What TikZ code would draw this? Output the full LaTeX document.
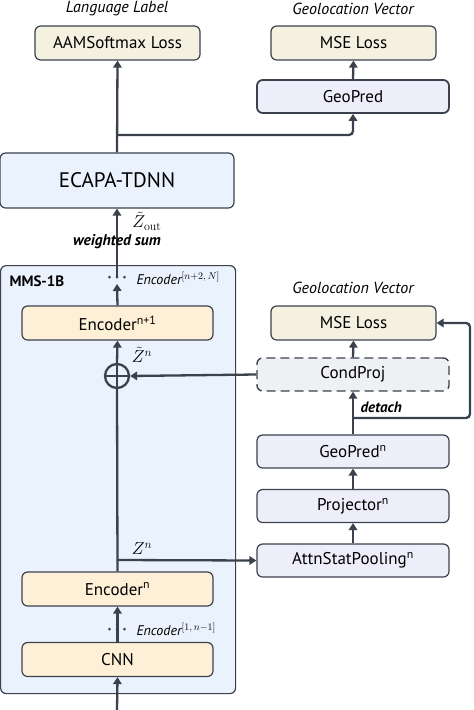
\documentclass[tikz,border=0pt]{standalone}
\usepackage[no-math]{fontspec}
\setmainfont{PT Sans}
\usepackage{amsmath}
\usetikzlibrary{positioning,arrows.meta}

\definecolor{edge}{HTML}{3B414D}
\definecolor{lossfill}{HTML}{F4F1E1}
\definecolor{geofill}{HTML}{EEEEFB}
\definecolor{blockfill}{HTML}{EAF2FE}
\definecolor{encfill}{HTML}{FDF0D7}
\definecolor{projfill}{HTML}{EEF0F4}

\begin{document}
\begin{tikzpicture} [x=1pt,y=-1pt,
	box/.style={
		rectangle,draw=edge,fill=white,line width=1.2pt,
		rounded corners=2mm,inner sep=0pt,
		font=\fontsize{17}{20}\selectfont},
	loss/.style={
		box,fill=lossfill,minimum width=165pt,minimum height=34pt},
	geo/.style={
		box,fill=geofill,minimum width=192pt,minimum height=33pt},
	enc/.style={
		box,fill=encfill,minimum width=191pt,minimum height=34pt},
	title/.style={font=\itshape\fontsize{16}{18}\selectfont},
	note/.style={font=\fontsize{14}{16}\selectfont},
	mathlabel/.style={inner sep=0pt,font=\fontsize{17}{20}\selectfont},
	dot/.style={circle,fill=edge,inner sep=0pt,minimum size=3pt},
	tip/.style={
		-{Triangle[length=7pt,width=8.5pt]},draw=edge,line width=2.3pt}]
\useasboundingbox (0,0) rectangle (474,710);
% top: heads
\node[title] (lang title) 		at (117,9) {Language Label};
\node[title] (geo title) 		at (353,9) {Geolocation Vector};
\node[loss] (aam) 				at (117.5,43) {AAMSoftmax Loss};
\node[loss] (mse) 				at (353.5,43) {MSE Loss};
\node[geo,line width=1.8pt] (geopred) 	at (353,96.5) {GeoPred};
\node[box,fill=blockfill,minimum width=234pt,minimum height=55pt,
	font=\fontsize{21}{24}\selectfont] (ecapa) 	at (117,180.5) {ECAPA-TDNN};
% MMS-1B
\node[box,fill=blockfill,minimum width=235pt,minimum height=428pt,
	anchor=north west] (mms) 		at (0,265) {};
\node[font=\bfseries\fontsize{15}{17}\selectfont,anchor=west] (mms label) at (6,281) {MMS-1B};
\node[enc] (enc1) 				at (117.5,323) {Encoder\textsuperscript{n+1}};
\node[enc] (encn) 				at (117.5,589) {Encoder\textsuperscript{n}};
\node[enc] (cnn) 				at (117.5,659.5) {CNN};
\node[circle,draw=edge,line width=2.3pt,minimum size=24pt,inner sep=0pt] (sum) at (117,376) {};
\draw[edge,line width=2.3pt] (sum.west) -- (sum.east) (sum.north) -- (sum.south);
% right: probe
\node[title] (geo title n) 		at (353,288) {Geolocation Vector};
\node[loss] (mse n) 			at (353.5,323) {MSE Loss};
\node[geo,fill=projfill,line width=1.4pt,dash pattern=on 9pt off 5pt] (condproj) 	at (353,374.5) {CondProj};
\node[geo] (geopred n) 			at (353,451.5) {GeoPred\textsuperscript{n}};
\node[geo] (proj n) 			at (353,506) {Projector\textsuperscript{n}};
\node[geo] (attn n) 			at (353,560.5) {AttnStatPooling\textsuperscript{n}};
% coordinates
\coordinate (split) 	at (117,135);
\coordinate (upper gap) at (117,284);
\coordinate (upper dots) at (117,277);
\coordinate (lower dots) at (117,629);
\coordinate (zn) 		at (117,560);
\coordinate (input) 	at (117,710);
\coordinate (det) 		at (353,418);
\coordinate (loop) 		at (470,418);
% arrows
\draw[tip] (ecapa.north) -- (aam.south);
\draw[tip,rounded corners=4pt] (split) -| (geopred.south);
\draw[tip] (geopred.north) -- (mse.south);
\draw[tip] (upper dots) -- (ecapa.south);
\draw[tip] (enc1.north) -- (upper gap);
\draw[tip] (sum.north) -- (enc1.south);
\draw[edge,line width=2.3pt] (encn.north) -- (sum.south);
\draw[tip] (zn) -- (attn n.west);
\draw[tip] (cnn.north) -- (encn.south);
\draw[tip] (input) -- (cnn.south);
\draw[tip] (attn n.north) -- (proj n.south);
\draw[tip] (proj n.north) -- (geopred n.south);
\draw[tip] (geopred n.north) -- (condproj.south);
\draw[tip] (condproj.north) -- (mse n.south);
\draw[tip] (condproj.west) -- (sum.east);
\draw[tip,rounded corners=4pt] (det) -- (loop) |- (mse n.east);
% dots
\foreach \dx in {-7.5,0,7.5} {
	\node[dot] at ([xshift=\dx pt]upper dots) {};
	\node[dot] at ([xshift=\dx pt]lower dots) {};
}
% labels
\node[mathlabel] (zout) at (147,221) {$\tilde{Z}_{\mathrm{out}}$};
\node[font=\bfseries\itshape\fontsize{15.5}{17}\selectfont] (wsum) at (117,242) {weighted sum};
\node[note,anchor=west] (upper enc) at (133,278) {\itshape Encoder$^{[n+2,\,N]}$};
\node[note,anchor=west] (lower enc) at (133,629) {\itshape Encoder$^{[1,\,n-1]}$};
\node[mathlabel] (ztilde) at (142,355) {$\tilde{Z}^{n}$};
\node[mathlabel] (zplain) at (142,549) {$Z^{n}$};
\node[font=\bfseries\itshape\fontsize{15}{17}\selectfont,anchor=west] (detach) at (357,407) {detach};
\end{tikzpicture}
\end{document}
